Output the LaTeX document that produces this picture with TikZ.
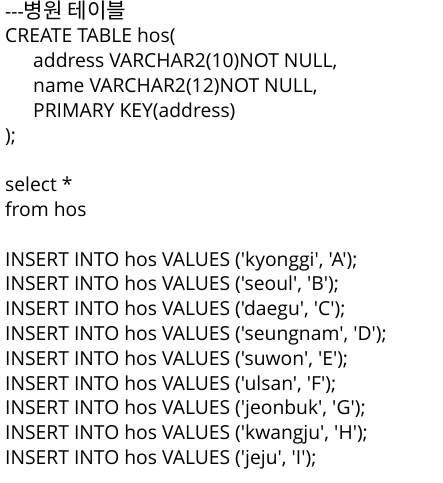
\documentclass[tikz,border=0pt]{standalone}
\usepackage{fontspec}
\setmainfont{Open Sans}[Ligatures=TeXOff]
\newfontfamily\kr{Noto Sans CJK KR}[Ligatures=TeXOff,Scale=1.1]
\begin{document}
\begin{tikzpicture}[x=1pt,y=1pt,
  codeline/.style={anchor=base west,inner sep=0pt,font=\fontsize{19.3}{21}\selectfont,text=black}]
\useasboundingbox[fill=white] (0,0) rectangle (443,-483);
\def\ls{24.8}
\node[codeline] (l0) at (5,-18) {---{\kr 병원 테이블}};
\node[codeline] (l1) at (5,-18-1*\ls) {CREATE TABLE hos(};
\node[codeline] (l2) at (33,-18-2*\ls) {address VARCHAR2(10)NOT NULL,};
\node[codeline] (l3) at (33,-18-3*\ls) {name VARCHAR2(12)NOT NULL,};
\node[codeline] (l4) at (33,-18-4*\ls) {PRIMARY KEY(address)};
\node[codeline] (l5) at (5,-18-5*\ls) {);};
\node[codeline] (l7) at (5,-18-7*\ls) {select *};
\node[codeline] (l8) at (5,-18-8*\ls) {from hos};
\node[codeline] (i1) at (5,-18-10*\ls) {INSERT INTO hos VALUES ('kyonggi', 'A');};
\node[codeline] (i2) at (5,-18-11*\ls) {INSERT INTO hos VALUES ('seoul', 'B');};
\node[codeline] (i3) at (5,-18-12*\ls) {INSERT INTO hos VALUES ('daegu', 'C');};
\node[codeline] (i4) at (5,-18-13*\ls) {INSERT INTO hos VALUES ('seungnam', 'D');};
\node[codeline] (i5) at (5,-18-14*\ls) {INSERT INTO hos VALUES ('suwon', 'E');};
\node[codeline] (i6) at (5,-18-15*\ls) {INSERT INTO hos VALUES ('ulsan', 'F');};
\node[codeline] (i7) at (5,-18-16*\ls) {INSERT INTO hos VALUES ('jeonbuk', 'G');};
\node[codeline] (i8) at (5,-18-17*\ls) {INSERT INTO hos VALUES ('kwangju', 'H');};
\node[codeline] (i9) at (5,-18-18*\ls) {INSERT INTO hos VALUES ('jeju', 'I');};
\end{tikzpicture}
\end{document}
